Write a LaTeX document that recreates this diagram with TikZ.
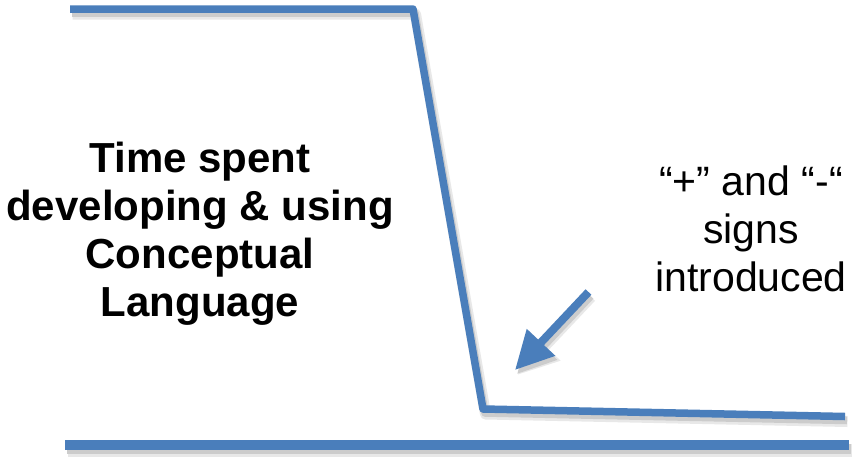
\documentclass[tikz,border=0pt]{standalone}
\usepackage{fontspec}
\setmainfont{Liberation Sans}
\usetikzlibrary{arrows.meta}
\definecolor{lineblue}{RGB}{74,126,187}
\begin{document}
\begin{tikzpicture}[x=1pt,y=-1pt,
  bar/.style={draw=lineblue, line width=#1, line join=round},
  softshade/.style={draw=black!9, line width=#1, line join=round, transform canvas={shift={(2.5pt,-5pt)}}},
  shade/.style={draw=black!20, line width=#1, line join=round, transform canvas={shift={(2pt,-4pt)}}},
  label/.style={align=center, inner sep=0pt, text=black}]
\useasboundingbox[fill=white] (0,0) rectangle (852,456);
\coordinate (topstart) at (70,9);
\coordinate (topcorner) at (413,9);
\coordinate (lowcorner) at (483,409);
\coordinate (lowend) at (845,416.5);
\coordinate (basestart) at (65,445);
\coordinate (baseend) at (849,445);
\coordinate (arrowtail) at (588.5,292);
\coordinate (arrowtip) at (515,370);
% soft outer shadows
\draw[softshade=11pt] (topstart) -- (topcorner) -- (lowcorner) -- (lowend);
\draw[softshade=13pt] (basestart) -- (baseend);
\draw[softshade=11pt, -{Triangle[length=40pt,width=40pt]}] (arrowtail) -- (arrowtip);
% shadows
\draw[shade=7.5pt] (topstart) -- (topcorner) -- (lowcorner) -- (lowend);
\draw[shade=10pt] (basestart) -- (baseend);
\draw[shade=8pt, -{Triangle[length=38pt,width=37pt]}] (arrowtail) -- (arrowtip);
% lines
\draw[bar=7.5pt] (topstart) -- (topcorner) -- (lowcorner) -- (lowend);
\draw[bar=10pt] (basestart) -- (baseend);
\draw[draw=lineblue, fill=lineblue, line width=8pt, -{Triangle[length=38pt,width=37pt]}] (arrowtail) -- (arrowtip);
% texts
\node[label, font=\fontsize{42}{48}\selectfont\bfseries] (timetext) at (200,234)
  {Time spent\\developing \& using\\Conceptual\\Language};
\node[label, font=\fontsize{41}{48}\selectfont] (signtext) at (751,229)
  {“+” and “-“\\signs\\introduced};
\end{tikzpicture}
\end{document}
